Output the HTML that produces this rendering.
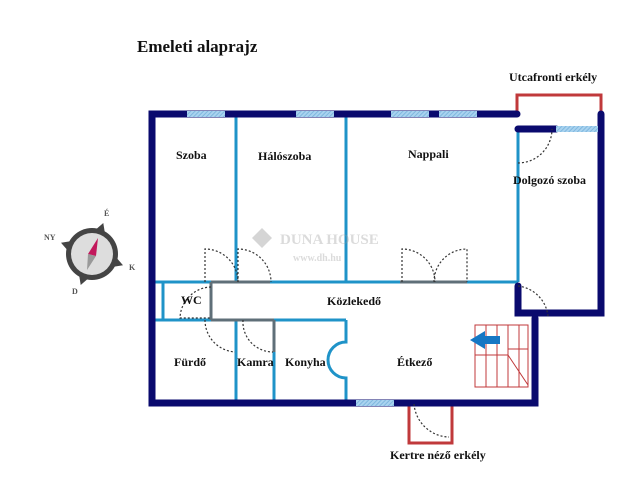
<!DOCTYPE html>
<html><head><meta charset="utf-8"><style>
html,body{margin:0;padding:0;background:#fff;width:640px;height:487px;overflow:hidden}
svg{display:block}
text{font-family:"Liberation Serif",serif;font-weight:bold;fill:#111}
</style></head><body>
<svg width="640" height="487" viewBox="0 0 640 487">
<defs><pattern id="win" width="3" height="3" patternUnits="userSpaceOnUse" patternTransform="rotate(45)"><rect width="3" height="3" fill="#a9d3ef"/><rect width="1" height="3" fill="#7fb7df"/></pattern></defs>
<text x="137" y="52" font-size="17">Emeleti alaprajz</text>
<text x="509" y="81" font-size="12">Utcafronti erkély</text>
<!-- balconies -->
<polyline points="517,113 517,95 601,95 601,113" fill="none" stroke="#c0393b" stroke-width="3"/>
<polyline points="409,404 409,443 452,443 452,404" fill="none" stroke="#c0393b" stroke-width="3"/>
<!-- inner light walls -->
<g stroke="#1f93c8" stroke-width="3" fill="none">
<line x1="236" y1="114" x2="236" y2="282"/>
<line x1="346" y1="114" x2="346" y2="282"/>
<line x1="518" y1="128" x2="518" y2="282"/>
<line x1="152" y1="282" x2="518" y2="282"/>
<line x1="163" y1="282" x2="163" y2="320"/>
<line x1="152" y1="320" x2="346" y2="320"/>
<line x1="236" y1="320" x2="236" y2="403"/>
<line x1="274" y1="320" x2="274" y2="403"/>
<path d="M346,320 L346,342 A18,18 0 0 0 346,378 L346,403"/>
</g>
<g stroke="#5f6f78" stroke-width="3"><line x1="211" y1="282" x2="211" y2="320"/><line x1="211" y1="282" x2="270" y2="282"/><line x1="400" y1="282" x2="467" y2="282"/><line x1="211" y1="320" x2="274" y2="320"/><line x1="274" y1="320" x2="274" y2="352"/></g>
<!-- outer walls -->
<g stroke="#0a0a6e" stroke-width="7" stroke-linecap="round" fill="none">
<polyline points="517,114 152,114 152,403 535,403 535,318"/>
<polyline points="518,286 518,313 601,313 601,114"/>
<line x1="518" y1="129" x2="556" y2="129"/>
</g>
<!-- windows -->
<g fill="url(#win)">
<rect x="187" y="111" width="38" height="6"/>
<rect x="296" y="111" width="38" height="6"/>
<rect x="391" y="111" width="38" height="6"/>
<rect x="439" y="111" width="38" height="6"/>
<rect x="556" y="126" width="42" height="6"/>
<rect x="356" y="400" width="38" height="6"/>
</g>
<!-- doors -->
<g stroke="#333" stroke-width="1.2" stroke-dasharray="2,2" fill="none">
<path d="M205,282 V249 A33,33 0 0 1 238,282"/>
<path d="M238,282 V249 A33,33 0 0 1 271,282"/>
<path d="M402,282 V249 A33,33 0 0 1 435,282"/>
<path d="M434,282 A33,33 0 0 1 467,249 V282"/>
<path d="M518,163 A34,34 0 0 0 552,129"/>
<path d="M518,286 A34,34 0 0 1 548,316"/>
<path d="M211,287 A32,32 0 0 0 180,318 H211"/>
<path d="M205,320 A32,32 0 0 0 235,352"/>
<path d="M243,320 A30,30 0 0 0 273,352"/>
<path d="M414,404 A36,36 0 0 0 449,437"/>
</g>
<!-- stairs -->
<g stroke="#c0393b" stroke-width="1" fill="none">
<rect x="475" y="325" width="53" height="62"/>
<line x1="486" y1="325" x2="486" y2="387"/><line x1="497" y1="325" x2="497" y2="387"/><line x1="508" y1="325" x2="508" y2="387"/><line x1="519" y1="325" x2="519" y2="387"/>
<line x1="475" y1="355" x2="508" y2="355"/><line x1="508" y1="355" x2="528" y2="385"/>
<line x1="508" y1="349" x2="528" y2="349"/>
</g>
<path d="M470,340 L485,331 L485,336 L500,336 L500,344 L485,344 L485,349 Z" fill="#1677c4"/>
<!-- watermark -->
<g opacity="0.35"><path d="M262,228 L272,238 L262,248 L252,238Z" fill="#888"/>
<text x="280" y="244" font-size="15" fill="#999" style="fill:#999">DUNA HOUSE</text>
<text x="293" y="261" font-size="10" style="fill:#999">www.dh.hu</text></g>
<!-- labels -->
<g font-size="12">
<text x="176" y="159">Szoba</text>
<text x="258" y="160">Hálószoba</text>
<text x="408" y="158">Nappali</text>
<text x="513" y="184">Dolgozó szoba</text>
<text x="181" y="304">WC</text>
<text x="327" y="305">Közlekedő</text>
<text x="174" y="366">Fürdő</text>
<text x="237" y="366">Kamra</text>
<text x="285" y="366">Konyha</text>
<text x="397" y="366">Étkező</text>
<text x="390" y="459">Kertre néző erkély</text>
</g>
<!-- compass -->
<g transform="translate(92,254)">
<circle r="26" fill="#444"/>
<circle r="21" fill="#ddd"/>
<polygon points="0,-33 -5,-24 5,-24" fill="#444" transform="rotate(20)"/>
<polygon points="0,-33 -5,-24 5,-24" fill="#444" transform="rotate(110)"/>
<polygon points="0,-33 -5,-24 5,-24" fill="#444" transform="rotate(200)"/>
<polygon points="0,-33 -5,-24 5,-24" fill="#444" transform="rotate(290)"/>
<polygon points="6,-16 -4,0 4,2" fill="#c2185b"/>
<polygon points="-4,0 4,2 -5,16" fill="#999"/>
<text x="12" y="-38" font-size="8" style="fill:#555">É</text>
<text x="37" y="16" font-size="8" style="fill:#555">K</text>
<text x="-20" y="40" font-size="8" style="fill:#555">D</text>
<text x="-48" y="-14" font-size="8" style="fill:#555">NY</text>
</g>
</svg>
</body></html>
